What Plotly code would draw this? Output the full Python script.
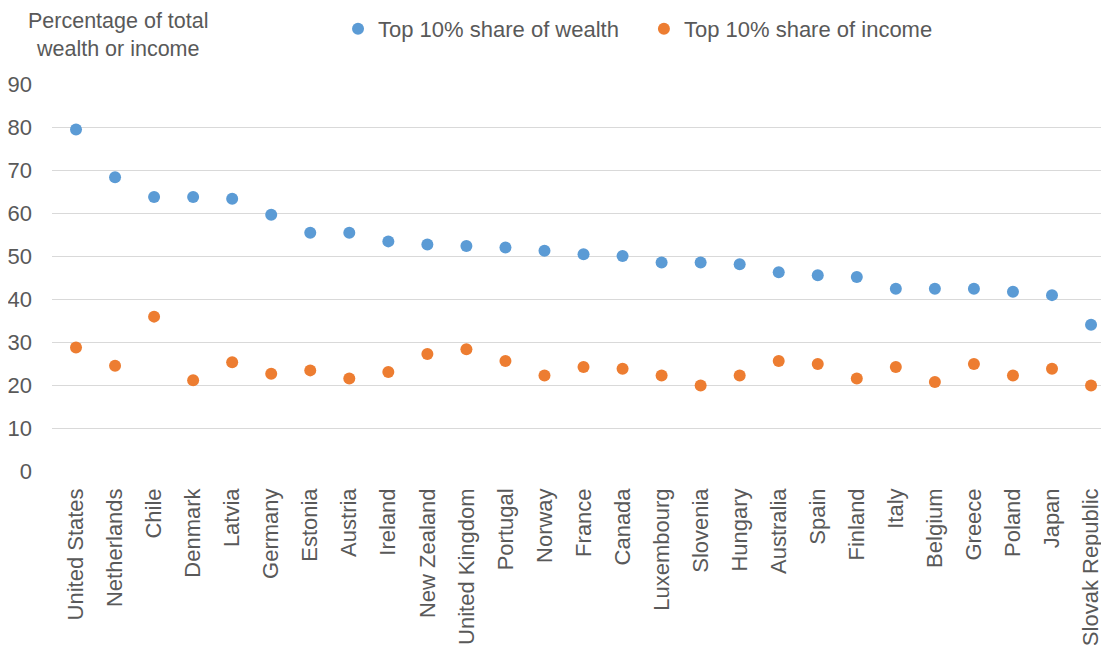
import plotly.graph_objects as go

countries = ["United States", "Netherlands", "Chile", "Denmark", "Latvia", "Germany",
             "Estonia", "Austria", "Ireland", "New Zealand", "United Kingdom", "Portugal",
             "Norway", "France", "Canada", "Luxembourg", "Slovenia", "Hungary",
             "Australia", "Spain", "Finland", "Italy", "Belgium", "Greece", "Poland",
             "Japan", "Slovak Republic"]
wealth = [79.4, 68.3, 63.7, 63.7, 63.3, 59.6, 55.4, 55.4, 53.4, 52.7, 52.3, 52.0,
          51.2, 50.4, 50.0, 48.5, 48.5, 48.1, 46.2, 45.5, 45.1, 42.4, 42.4, 42.4,
          41.7, 40.9, 34.0]
income = [28.7, 24.5, 35.9, 21.1, 25.3, 22.6, 23.4, 21.5, 23.0, 27.2, 28.3, 25.6,
          22.2, 24.2, 23.8, 22.2, 19.9, 22.2, 25.6, 24.9, 21.5, 24.2, 20.7, 24.9,
          22.2, 23.8, 19.9]
y_ticks = [0, 10, 20, 30, 40, 50, 60, 70, 80, 90]

FONT = "Liberation Sans, Arial, sans-serif"
GREY = "#595959"

fig = go.Figure()
fig.add_trace(go.Scatter(x=countries, y=wealth, mode="markers", name="Top 10% share of wealth",
                         marker=dict(color="#5B9BD5", size=12), legend="legend"))
fig.add_trace(go.Scatter(x=countries, y=income, mode="markers", name="Top 10% share of income",
                         marker=dict(color="#ED7D31", size=12), legend="legend2"))

# page body adds an 8px offset, so the figure is 8px smaller each way
fig.update_layout(
    width=1101, height=637,
    margin=dict(l=44, r=0, t=76, b=174, autoexpand=False),
    plot_bgcolor="white", paper_bgcolor="white",
    font=dict(family=FONT, size=22, color=GREY),
    xaxis=dict(type="category", range=[-0.615, 26.46], tickangle=-90,
               showgrid=False, showline=False, ticks="",
               tickfont=dict(size=22, color=GREY), ticklabelstandoff=12,
               automargin=False),
    yaxis=dict(range=[0, 90], tickvals=y_ticks, showgrid=True, gridcolor="#D9D9D9",
               gridwidth=1.3, zeroline=False, showline=False, ticks="",
               tickfont=dict(size=22, color=GREY), ticklabelstandoff=19,
               automargin=False),
    legend=dict(orientation="h", x=0.2706, y=1.142, xanchor="left", yanchor="middle",
                font=dict(size=22, color=GREY), itemwidth=30, bgcolor="rgba(0,0,0,0)"),
    legend2=dict(orientation="h", x=0.560, y=1.142, xanchor="left", yanchor="middle",
                 font=dict(size=22, color=GREY), itemwidth=30, bgcolor="rgba(0,0,0,0)"),
    annotations=[dict(text="Percentage of total<br>wealth or income", xref="paper", yref="paper",
                      x=(118 - 52) / 1057, y=(471 - 34.5) / 387,
                      xanchor="center", yanchor="middle", showarrow=False, align="center",
                      font=dict(size=21.5, color=GREY, family=FONT))],
    showlegend=True,
)

fig.write_html("out.html")
